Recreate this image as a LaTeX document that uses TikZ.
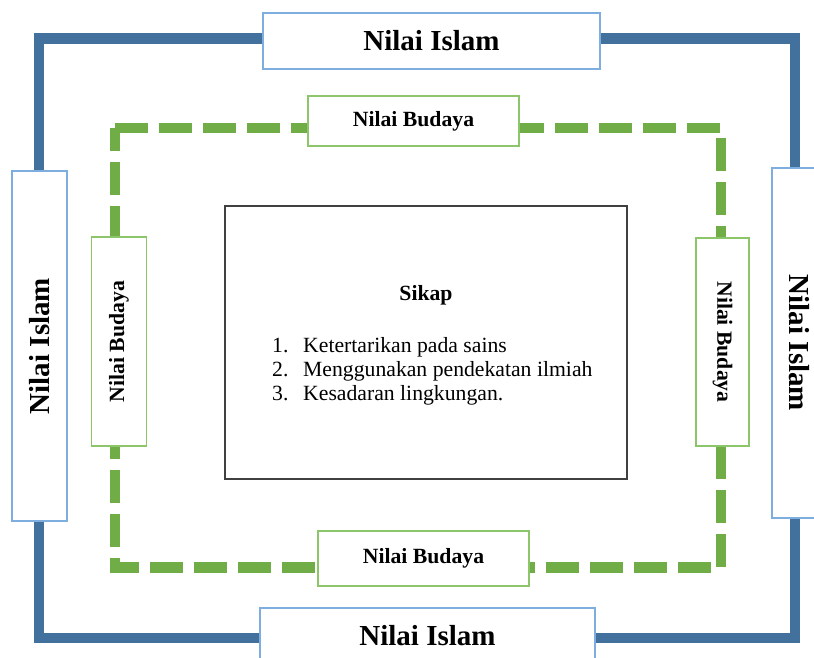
\documentclass[tikz,border=0pt]{standalone}
\usepackage{fontspec}
\setmainfont{Liberation Serif}
\usepackage{xcolor}
\usetikzlibrary{positioning}
\definecolor{islamblue}{HTML}{41719C}
\definecolor{islamedge}{HTML}{7EAEDF}
\definecolor{budayagreen}{HTML}{70AD47}
\definecolor{budayaedge}{HTML}{8CC56A}
\definecolor{sikapedge}{HTML}{404040}

\begin{document}
\begin{tikzpicture}[x=1pt,y=-1pt,thin]
            \tikzset{islam/.style={draw=islamedge, line width=1.3pt, fill=white, inner sep=0pt, font=\fontsize{29}{34}\selectfont\bfseries},
                     budaya/.style={draw=budayaedge, line width=1.3pt, fill=white, inner sep=0pt, font=\fontsize{21.7}{26}\selectfont\bfseries},
                     item/.style={anchor=base west, inner sep=0pt, font=\fontsize{21.7}{26}\selectfont}}
            \useasboundingbox (0,0) rectangle (814,658);
            % frames behind the boxes
            \coordinate (outerA) at (39,38.5);
            \coordinate (outerB) at (795,638);
            \coordinate (innerA) at (115,128);
            \coordinate (innerB) at (721,567.5);
            \draw[islamblue, line width=10.5pt] (outerA) rectangle (outerB);
            \draw[budayagreen, line width=10.5pt, dash pattern=on 33pt off 11pt] (innerA) -- (innerA -| innerB) -- (innerB) -- (innerA |- innerB) -- cycle;
            % Nilai Islam
            \node[islam, minimum width=337pt, minimum height=56pt] (islamTop) at (431.5,41) {Nilai Islam};
            \node[islam, minimum width=335pt, minimum height=56pt] (islamBottom) at (427.5,636) {Nilai Islam};
            \node[islam, rotate=90, minimum width=350pt, minimum height=55pt] (islamLeft) at (39.5,346) {Nilai Islam};
            \node[islam, rotate=-90, minimum width=350pt, minimum height=55pt] (islamRight) at (799.5,343) {Nilai Islam};
            % Nilai Budaya
            \node[budaya, minimum width=211pt, minimum height=50pt] (budayaTop) at (413.5,121) {Nilai Budaya};
            \node[budaya, minimum width=211pt, minimum height=55pt] (budayaBottom) at (423.5,558.5) {Nilai Budaya};
            \node[budaya, rotate=90, minimum width=209pt, minimum height=55pt] (budayaLeft) at (119,341.5) {Nilai Budaya};
            \node[budaya, rotate=-90, minimum width=208pt, minimum height=53pt] (budayaRight) at (722.5,342) {Nilai Budaya};
            % Sikap
            \node[draw=sikapedge, line width=1.5pt, minimum width=402pt, minimum height=273pt] (sikapBox) at (426,342.5) {};
            \node[anchor=base, inner sep=0pt, font=\fontsize{21.7}{26}\selectfont\bfseries] (sikapTitle) at (426,300) {Sikap};
            \node[item] (num1) at (272,352) {1.};
            \node[item] (txt1) at (303,352) {Ketertarikan pada sains};
            \node[item] (num2) at (272,376) {2.};
            \node[item] (txt2) at (303,376) {Menggunakan pendekatan ilmiah};
            \node[item] (num3) at (272,400) {3.};
            \node[item] (txt3) at (303,400) {Kesadaran lingkungan.};
        \end{tikzpicture}
\end{document}
